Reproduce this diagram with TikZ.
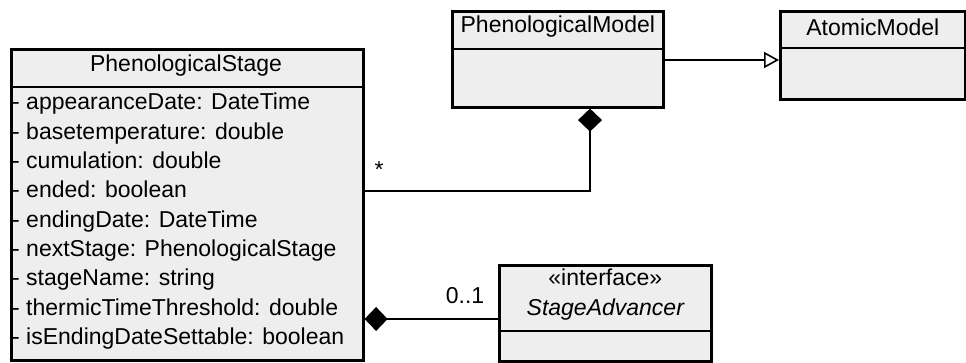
\documentclass[tikz,border=0pt]{standalone}
\usepackage{fontspec}
\setmainfont{Liberation Sans}
\usetikzlibrary{arrows.meta}
\definecolor{boxfill}{RGB}{238,238,238}
\begin{document}
\begin{tikzpicture}[x=1pt,y=-1pt,
  cls/.style={draw=black, line width=2.6pt, fill=boxfill, rectangle, inner sep=0pt, anchor=north west},
  sep/.style={line width=1.8pt},
  conn/.style={line width=1.6pt},
  txt/.style={inner sep=0pt, font=\fontsize{23}{29.3}\selectfont},
  compos/.style={-{Diamond[length=23pt,width=24pt,fill=black]}},
  gener/.style={-{Triangle[open,length=15pt,width=16pt,fill=white,line width=1.6pt]}}]
\useasboundingbox (0,0) rectangle (966,363);

% PhenologicalStage class
\node[cls, minimum width=352pt, minimum height=311pt] (stage) at (10,48) {};
\draw[sep] (stage.west |- 0,87) -- (stage.east |- 0,87);
\node[txt, anchor=base] (stagename) at (186,72) {PhenologicalStage};
\foreach \i/\t in {1/{- appearanceDate: DateTime},
                   2/{- basetemperature: double},
                   3/{- cumulation: double},
                   4/{- ended: boolean},
                   5/{- endingDate: DateTime},
                   6/{- nextStage: PhenologicalStage},
                   7/{- stageName: string},
                   8/{- thermicTimeThreshold: double},
                   9/{- isEndingDateSettable: boolean}}
  \node[txt, anchor=base west] (attr\i) at (12,{110+(\i-1)*29.3}) {\t};

% PhenologicalModel class
\node[cls, minimum width=211pt, minimum height=96pt] (pmodel) at (451,10) {};
\draw[sep] (pmodel.west |- 0,49) -- (pmodel.east |- 0,49);
\node[txt, anchor=base] (pmodelname) at (pmodel.north |- 0,33) {PhenologicalModel};

% AtomicModel class
\node[cls, minimum width=185pt, minimum height=88pt] (atomic) at (779,10) {};
\draw[sep] (atomic.west |- 0,48) -- (atomic.east |- 0,48);
\node[txt, anchor=base] (atomicname) at (atomic.north |- 0,36) {AtomicModel};

% StageAdvancer interface
\node[cls, minimum width=212pt, minimum height=96pt] (adv) at (498,264) {};
\draw[sep] (adv.west |- 0,331) -- (adv.east |- 0,331);
\node[txt, anchor=base] (advstereo) at (adv.north |- 0,286) {«interface»};
\node[txt, anchor=base, font=\fontsize{23}{29.3}\selectfont\itshape] (advname) at (adv.north |- 0,315) {StageAdvancer};

% generalization PhenologicalModel -> AtomicModel
\coordinate (genstart) at (pmodel.east |- 0,60);
\coordinate (genend) at (atomic.west |- 0,60);
\draw[conn, gener] (genstart) -- (genend);

% composition PhenologicalModel <>-- PhenologicalStage
\coordinate (compstart) at (stage.east |- 0,191);
\coordinate (pmwhole) at (pmodel.south -| 590,0);
\draw[conn, compos] (compstart) -| (pmwhole);
\node[txt, anchor=center] (mult1) at (379,170) {*};

% composition PhenologicalStage <>-- StageAdvancer
\coordinate (advlink) at (adv.west |- 0,319);
\coordinate (stagelink) at (stage.east |- 0,319);
\draw[conn, compos] (advlink) -- (stagelink);
\node[txt, anchor=base] (mult2) at (465,303) {0..1};
\end{tikzpicture}
\end{document}
